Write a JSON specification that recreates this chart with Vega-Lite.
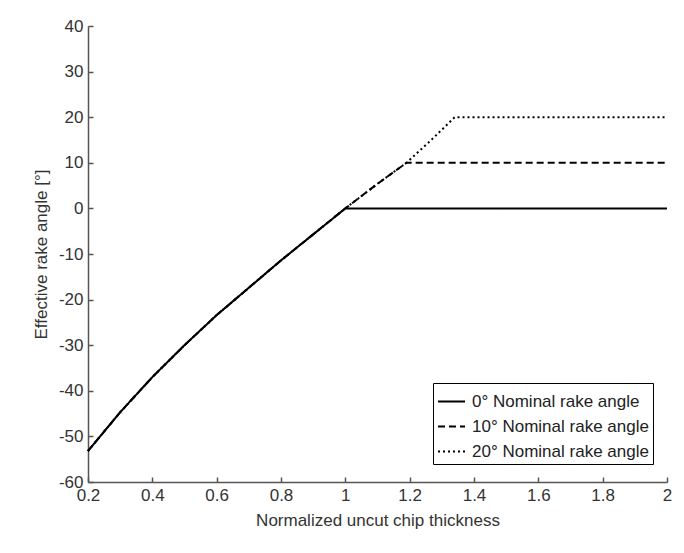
{
  "$schema": "https://vega.github.io/schema/vega-lite/v6.json",
  "autosize": {"type": "none"},
  "width": 579,
  "height": 456,
  "padding": {"left": 88, "top": 26, "right": 17, "bottom": 71},
  "background": "white",
  "config": {
    "view": {"stroke": null},
    "font": "Liberation Sans",
    "axis": {"grid": false, "domainColor": "#555555", "tickColor": "#555555", "labelColor": "#333333", "titleColor": "#333333", "labelFont": "Liberation Sans", "titleFont": "Liberation Sans", "labelFontSize": 17, "titleFontSize": 17, "titleFontWeight": "normal", "domainWidth": 1.5, "tickWidth": 1.5}
  },
  "data": {"values": [
    {"x": 0.2, "y": -53.2, "s": "0° Nominal rake angle"},
    {"x": 0.3, "y": -44.7, "s": "0° Nominal rake angle"},
    {"x": 0.4, "y": -37.0, "s": "0° Nominal rake angle"},
    {"x": 0.5, "y": -30.0, "s": "0° Nominal rake angle"},
    {"x": 0.6, "y": -23.4, "s": "0° Nominal rake angle"},
    {"x": 0.7, "y": -17.4, "s": "0° Nominal rake angle"},
    {"x": 0.8, "y": -11.4, "s": "0° Nominal rake angle"},
    {"x": 0.9, "y": -5.7, "s": "0° Nominal rake angle"},
    {"x": 1.0, "y": 0, "s": "0° Nominal rake angle"},
    {"x": 2.0, "y": 0, "s": "0° Nominal rake angle"},
    {"x": 0.2, "y": -53.2, "s": "10° Nominal rake angle"},
    {"x": 0.3, "y": -44.7, "s": "10° Nominal rake angle"},
    {"x": 0.4, "y": -37.0, "s": "10° Nominal rake angle"},
    {"x": 0.5, "y": -30.0, "s": "10° Nominal rake angle"},
    {"x": 0.6, "y": -23.4, "s": "10° Nominal rake angle"},
    {"x": 0.7, "y": -17.4, "s": "10° Nominal rake angle"},
    {"x": 0.8, "y": -11.4, "s": "10° Nominal rake angle"},
    {"x": 0.9, "y": -5.7, "s": "10° Nominal rake angle"},
    {"x": 1.0, "y": 0, "s": "10° Nominal rake angle"},
    {"x": 1.1, "y": 5.4, "s": "10° Nominal rake angle"},
    {"x": 1.19, "y": 10, "s": "10° Nominal rake angle"},
    {"x": 2.0, "y": 10, "s": "10° Nominal rake angle"},
    {"x": 0.2, "y": -53.2, "s": "20° Nominal rake angle"},
    {"x": 0.3, "y": -44.7, "s": "20° Nominal rake angle"},
    {"x": 0.4, "y": -37.0, "s": "20° Nominal rake angle"},
    {"x": 0.5, "y": -30.0, "s": "20° Nominal rake angle"},
    {"x": 0.6, "y": -23.4, "s": "20° Nominal rake angle"},
    {"x": 0.7, "y": -17.4, "s": "20° Nominal rake angle"},
    {"x": 0.8, "y": -11.4, "s": "20° Nominal rake angle"},
    {"x": 0.9, "y": -5.7, "s": "20° Nominal rake angle"},
    {"x": 1.0, "y": 0, "s": "20° Nominal rake angle"},
    {"x": 1.1, "y": 5.4, "s": "20° Nominal rake angle"},
    {"x": 1.19, "y": 10, "s": "20° Nominal rake angle"},
    {"x": 1.27, "y": 15.2, "s": "20° Nominal rake angle"},
    {"x": 1.34, "y": 20, "s": "20° Nominal rake angle"},
    {"x": 2.0, "y": 20, "s": "20° Nominal rake angle"}
  ]},
  "mark": {"type": "line", "color": "black", "strokeWidth": 2},
  "encoding": {
    "x": {"field": "x", "type": "quantitative", "scale": {"domain": [0.2, 2], "nice": false, "zero": false},
      "axis": {"values": [0.2, 0.4, 0.6, 0.8, 1, 1.2, 1.4, 1.6, 1.8, 2], "labelExpr": "'' + datum.value", "title": "Normalized uncut chip thickness", "tickSize": -5, "labelPadding": 10, "titlePadding": 9, "labelFlush": false, "labelOverlap": false}},
    "y": {"field": "y", "type": "quantitative", "scale": {"domain": [-60, 40], "nice": false},
      "axis": {"values": [-60, -50, -40, -30, -20, -10, 0, 10, 20, 30, 40], "labelExpr": "'' + datum.value", "title": "Effective rake angle [°]", "tickSize": -5, "labelPadding": 10, "titlePadding": 8, "labelFlush": false, "labelOverlap": false}},
    "strokeDash": {"field": "s", "type": "nominal",
      "scale": {"domain": ["0° Nominal rake angle", "10° Nominal rake angle", "20° Nominal rake angle"], "range": [[1, 0], [7, 4], [2, 3]]},
      "legend": {"title": null, "orient": "none", "legendX": 345, "legendY": 357, "strokeColor": "black", "fillColor": "white", "padding": 4, "labelFontSize": 17, "labelFont": "Liberation Sans", "labelColor": "#222222", "labelLimit": 400, "labelExpr": "datum.label + '\u00a0\u00a0\u00a0'", "symbolSize": 729, "symbolStrokeWidth": 2, "symbolStrokeColor": "black", "symbolType": "stroke", "rowPadding": 2, "labelOffset": 6}}
  }
}
